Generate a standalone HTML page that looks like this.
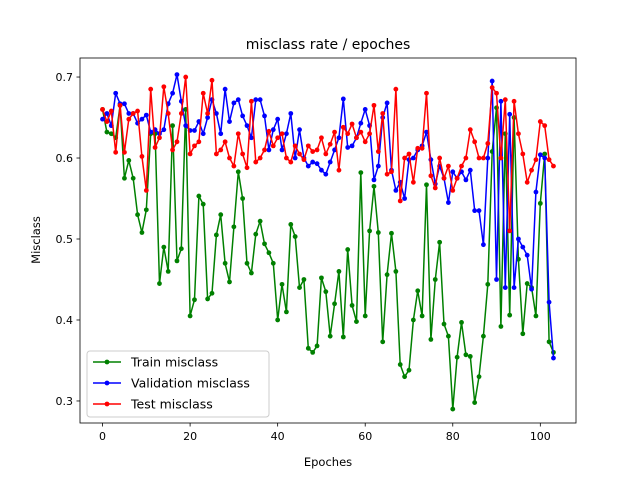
<!DOCTYPE html>
<html><head><meta charset="utf-8"><style>
body{margin:0;background:#fff;font-family:"Liberation Sans","DejaVu Sans",sans-serif}
</style></head><body>
<svg id="chart" width="640" height="478" xmlns="http://www.w3.org/2000/svg" font-family="DejaVu Sans, Liberation Sans, sans-serif">
<rect width="640" height="478" fill="#fff"/>
<text x="328" y="49" text-anchor="middle" font-size="14">misclass rate / epoches</text>
<text x="328" y="466" text-anchor="middle" font-size="11.5">Epoches</text>
<text x="40" y="240" text-anchor="middle" font-size="11.5" transform="rotate(-90 40 240)">Misclass</text>
<g id="plot"></g>
</svg>
<script>
const epochs = Array.from({length:104},(_, i)=>i);
const trainMisclass=[0.66,0.632,0.63,0.625,0.665,0.575,0.597,0.575,0.53,0.508,0.536,0.63,0.63,0.445,0.49,0.46,0.64,0.473,0.488,0.66,0.405,0.425,0.553,0.543,0.426,0.433,0.505,0.53,0.47,0.447,0.515,0.583,0.55,0.47,0.458,0.506,0.522,0.494,0.483,0.47,0.4,0.444,0.41,0.518,0.503,0.44,0.45,0.365,0.36,0.368,0.452,0.435,0.38,0.42,0.46,0.379,0.487,0.418,0.398,0.582,0.405,0.51,0.565,0.508,0.373,0.456,0.507,0.46,0.345,0.33,0.338,0.4,0.436,0.405,0.567,0.376,0.45,0.496,0.395,0.38,0.29,0.354,0.397,0.357,0.355,0.298,0.33,0.38,0.444,0.608,0.662,0.392,0.63,0.406,0.65,0.475,0.383,0.445,0.44,0.405,0.544,0.605,0.373,0.36];
const valMisclass=[0.648,0.655,0.64,0.68,0.667,0.667,0.655,0.655,0.643,0.648,0.653,0.632,0.635,0.63,0.635,0.667,0.68,0.703,0.67,0.64,0.634,0.634,0.645,0.63,0.65,0.672,0.655,0.63,0.685,0.645,0.668,0.672,0.652,0.64,0.625,0.672,0.672,0.652,0.61,0.635,0.648,0.61,0.63,0.655,0.6,0.635,0.6,0.59,0.595,0.593,0.585,0.58,0.595,0.61,0.625,0.673,0.613,0.615,0.625,0.643,0.66,0.64,0.573,0.59,0.65,0.668,0.585,0.56,0.57,0.55,0.598,0.6,0.61,0.615,0.632,0.598,0.568,0.59,0.575,0.545,0.583,0.575,0.583,0.573,0.585,0.535,0.535,0.493,0.6,0.695,0.45,0.67,0.44,0.654,0.44,0.5,0.49,0.48,0.438,0.558,0.604,0.6,0.422,0.353];
const testMisclass=[0.66,0.645,0.658,0.607,0.665,0.607,0.648,0.655,0.658,0.602,0.56,0.685,0.613,0.625,0.688,0.655,0.61,0.62,0.655,0.7,0.605,0.615,0.62,0.68,0.655,0.696,0.605,0.61,0.62,0.6,0.59,0.63,0.605,0.588,0.67,0.595,0.6,0.61,0.633,0.615,0.625,0.63,0.6,0.595,0.615,0.605,0.598,0.615,0.608,0.61,0.625,0.605,0.617,0.632,0.585,0.638,0.63,0.642,0.625,0.632,0.62,0.63,0.665,0.608,0.655,0.58,0.583,0.685,0.547,0.6,0.605,0.57,0.612,0.612,0.68,0.578,0.563,0.6,0.575,0.59,0.56,0.575,0.59,0.6,0.635,0.62,0.6,0.6,0.618,0.687,0.68,0.6,0.672,0.51,0.67,0.63,0.605,0.57,0.585,0.598,0.645,0.64,0.598,0.59];
const xTicks=[0,20,40,60,80,100];
const yTicks=[0.3,0.4,0.5,0.6,0.7];
const NS="http://www.w3.org/2000/svg";
const L=80,R=576,T=58,B=423;
const xMin=-5.15,xMax=108.15,yMin=0.2728,yMax=0.7235;
const sx=v=>L+(v-xMin)/(xMax-xMin)*(R-L);
const sy=v=>B-(v-yMin)/(yMax-yMin)*(B-T);
const g=document.getElementById('plot');
function mk(tag,attrs){const e=document.createElementNS(NS,tag);for(const k in attrs)e.setAttribute(k,attrs[k]);return e;}
xTicks.forEach(t=>{
  const ln=mk('line',{x1:sx(t),x2:sx(t),y1:B,y2:B+3.5,stroke:'#000','stroke-width':0.8});
  
  
  g.appendChild(ln);
  const tx=mk('text',{x:sx(t),y:B+17,'text-anchor':'middle','font-size':11});
  
  
  tx.textContent=t;g.appendChild(tx);
});
yTicks.forEach(t=>{
  const ln=mk('line',{x1:L-3.5,x2:L,y1:sy(t),y2:sy(t),stroke:'#000','stroke-width':0.8});
  
  
  g.appendChild(ln);
  const tx=mk('text',{x:L-7,y:sy(t)+4,'text-anchor':'end','font-size':11});
  
  
  tx.textContent=t.toFixed(1);g.appendChild(tx);
});
const series=[[trainMisclass,'#008000','train-series'],[valMisclass,'#0000ff','validation-series'],[testMisclass,'#ff0000','test-series']];
series.forEach(([vals,c,name])=>{
  const grp=mk('g',{});
  
  
  const pts=vals.map((v,i)=>sx(epochs[i]).toFixed(1)+','+sy(v).toFixed(1)).join(' ');
  grp.appendChild(mk('polyline',{points:pts,fill:'none',stroke:c,'stroke-width':1.5,'stroke-linejoin':'round'}));
  vals.forEach((v,i)=>{
    const p=mk('circle',{cx:sx(epochs[i]),cy:sy(v),r:2.4,fill:c});
    
    
    grp.appendChild(p);
  });
  g.appendChild(grp);
});
const frame=mk('rect',{x:L,y:T,width:R-L,height:B-T,fill:'none',stroke:'#000','stroke-width':0.8});


g.appendChild(frame);
// legend
const lg=mk('g',{});


lg.appendChild(mk('rect',{x:87,y:351,width:182,height:66,rx:3,fill:'#fff','fill-opacity':0.8,stroke:'#ccc','stroke-width':1}));
const labels=['Train misclass','Validation misclass','Test misclass'];
series.forEach(([v,c],i)=>{
  const y=362+i*21;
  const e=mk('g',{});
  
  
  e.appendChild(mk('line',{x1:93,x2:121,y1:y,y2:y,stroke:c,'stroke-width':1.5}));
  e.appendChild(mk('circle',{cx:107,cy:y,r:2.4,fill:c}));
  const t=mk('text',{x:131,y:y+4.5,'font-size':12.5});
  t.textContent=labels[i];e.appendChild(t);
  lg.appendChild(e);
});
g.appendChild(lg);
</script>
</body></html>
